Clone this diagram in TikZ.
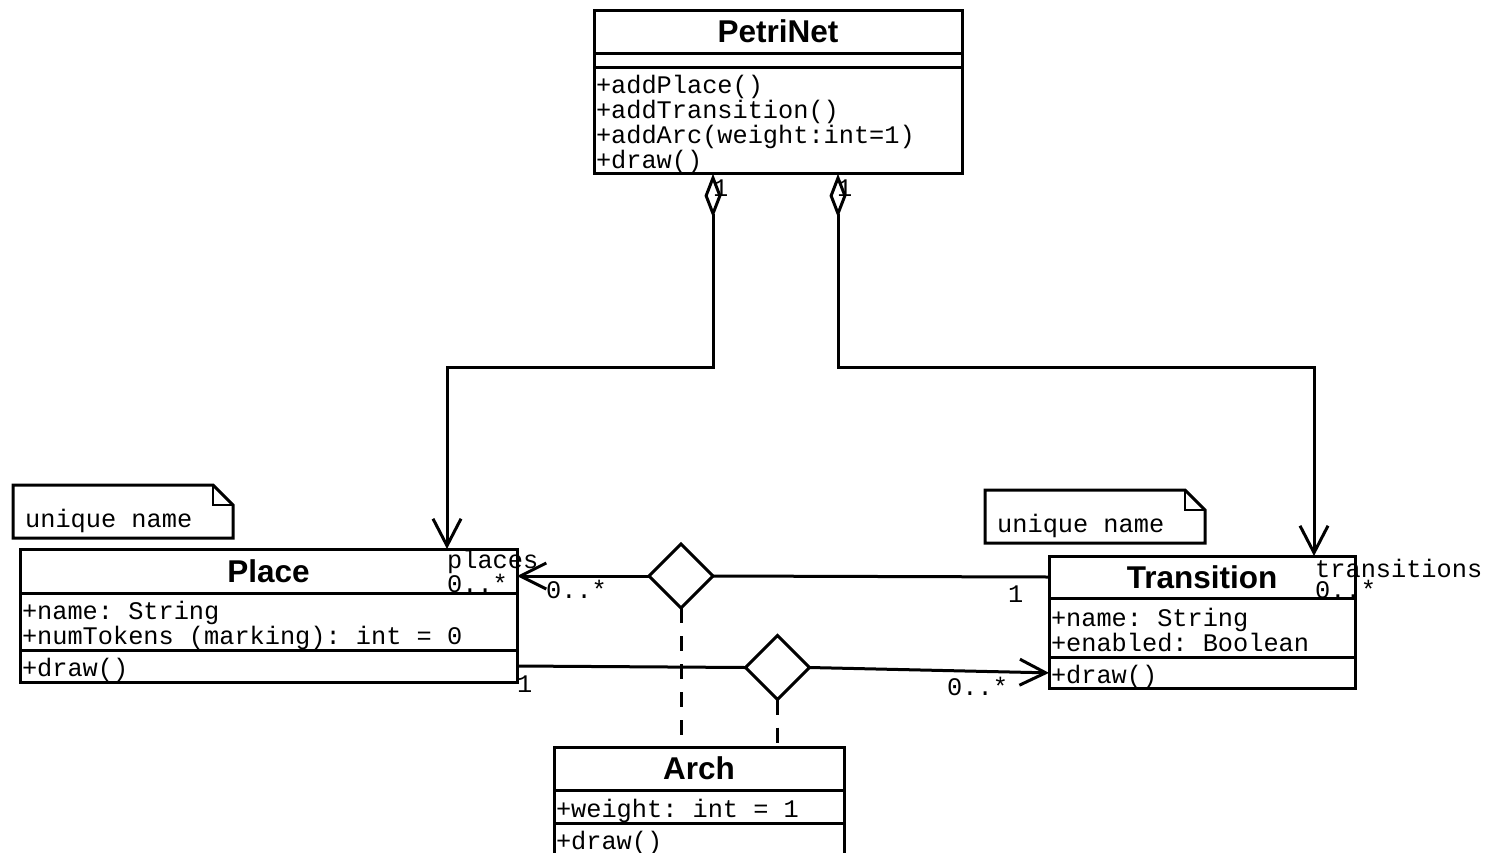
\documentclass[tikz,border=0pt]{standalone}
\usepackage{fontspec}
\setmainfont{Liberation Sans}
\newfontfamily\umlmono[WordSpace={1,0,0}]{Liberation Mono}
\usetikzlibrary{arrows.meta,shapes.geometric}

\tikzset{
  classbox/.style={draw, line width=3pt, anchor=north west, outer sep=0pt, inner xsep=2pt, inner ysep=0pt},
  classtitle/.style={classbox, align=center, font=\bfseries\fontsize{31.5}{31.5}\selectfont},
  classpart/.style={classbox, align=flush left, font=\umlmono\fontsize{25.3}{25}\selectfont\frenchspacing,
    execute at begin node={\rule{0pt}{26.5pt}}, execute at end node={\rule[-4pt]{0pt}{4pt}}},
  mult/.style={inner sep=0pt, anchor=base west, font=\umlmono\fontsize{25.3}{25}\selectfont\frenchspacing},
  assoc/.style={diamond, draw, fill=white, line width=3pt, outer sep=0pt, minimum width=64pt, minimum height=64pt, inner sep=0pt},
  aggr/.style={line width=3pt, {Diamond[open,length=44pt,width=17pt]}-{Straight Barb[length=27pt,width=28pt]}},
  navig/.style={line width=3pt, -{Straight Barb[length=26pt,width=26pt]}},
  link/.style={line width=3pt},
  dashlink/.style={line width=3pt, dash pattern=on 15pt off 13pt},
  notebox/.style={minimum width=220pt, minimum height=53pt, anchor=north west, outer sep=0pt, inner sep=0pt},
}

\begin{document}
\begin{tikzpicture}[x=1pt, y=-1pt]
    \useasboundingbox (0,0) rectangle (1491,852);

    % PetriNet
    \node[classtitle, text width=364pt, minimum height=43pt] (petri-t) at (594,10) {PetriNet};
    \node[classbox, text width=364pt, minimum height=14pt] (petri-a) at (petri-t.south west) {};
    \node[classpart, text width=364pt, minimum height=106pt] (petri-m) at (petri-a.south west)
        {+addPlace()\\+addTransition()\\+addArc(weight:int=1)\\+draw()};

    % Place
    \node[classtitle, text width=493pt, minimum height=44pt] (place-t) at (20,549) {Place};
    \node[classpart, text width=493pt, minimum height=57pt] (place-a) at (place-t.south west)
        {+name: String\\+numTokens (marking): int = 0};
    \node[classpart, text width=493pt, minimum height=32pt] (place-m) at (place-a.south west) {+draw()};

    % Transition
    \node[classtitle, text width=302pt, minimum height=42pt] (trans-t) at (1049,556) {Transition};
    \node[classpart, text width=302pt, minimum height=59pt] (trans-a) at (trans-t.south west)
        {+name: String\\+enabled: Boolean};
    \node[classpart, text width=302pt, minimum height=31pt] (trans-m) at (trans-a.south west) {+draw()};

    % Arch (bottom edge runs off the page)
    \node[classtitle, text width=286pt, minimum height=43pt] (arch-t) at (554,747) {Arch};
    \node[classpart, text width=286pt, minimum height=33pt] (arch-a) at (arch-t.south west) {+weight: int = 1};
    \node[classpart, text width=286pt, minimum height=32pt] (arch-m) at (arch-a.south west) {+draw()};

    % Notes
    \node[notebox] (note-p) at (13,485) {};
    \node[notebox] (note-t) at (985,490) {};
    \foreach \n in {note-p,note-t} {
        \draw[line width=3pt] (\n.south west) -- (\n.north west) -- ([xshift=-20pt]\n.north east)
            -- ([yshift=-20pt]\n.north east) -- (\n.south east) -- cycle;
        \draw[line width=1.5pt] ([xshift=-20pt]\n.north east) |- ([yshift=-20pt]\n.north east);
        \node[mult] (\n-text) at ([xshift=12pt,yshift=11pt]\n.south west) {unique name};
    }

    % Aggregations from PetriNet
    \draw[aggr] ([xshift=-65pt]petri-m.south) -- ++(0,194) -| ([xshift=178.5pt]place-t.north);
    \draw[aggr] ([xshift=60pt]petri-m.south) -- ++(0,194) -| ([xshift=112pt]trans-t.north);
    \node[mult] (agg-p-mult) at (713,196) {1};
    \node[mult] (agg-t-mult) at (837,196) {1};

    % Associations with Arch
    \node[assoc] (assoc-in) at (681,576) {};
    \node[assoc] (assoc-out) at (777.5,667.5) {};
    \draw[navig] (assoc-in.west) -- (assoc-in.west -| place-t.east);
    \draw[link] (assoc-in.east) -- (trans-t.west);
    \draw[link] (place-m.east) -- (assoc-out.west);
    \draw[navig] (assoc-out.east) -- (trans-m.west);
    \foreach \d in {assoc-in,assoc-out}
        \draw[dashlink] (\d.south) -- (\d.south |- arch-t.north);

    % Roles and multiplicities
    \node[mult] (role-places) at (447,568) {places};
    \node[mult] (mult-places) at (447,592) {0..*};
    \node[mult] (mult-in-p) at (546,598) {0..*};
    \node[mult] (mult-in-t) at (1008,602) {1};
    \node[mult] (mult-out-p) at (517,692) {1};
    \node[mult] (mult-out-t) at (947,695) {0..*};
    \node[mult] (role-trans) at (1315,577) {transitions};
    \node[mult] (mult-trans) at (1315,598) {0..*};
\end{tikzpicture}
\end{document}
